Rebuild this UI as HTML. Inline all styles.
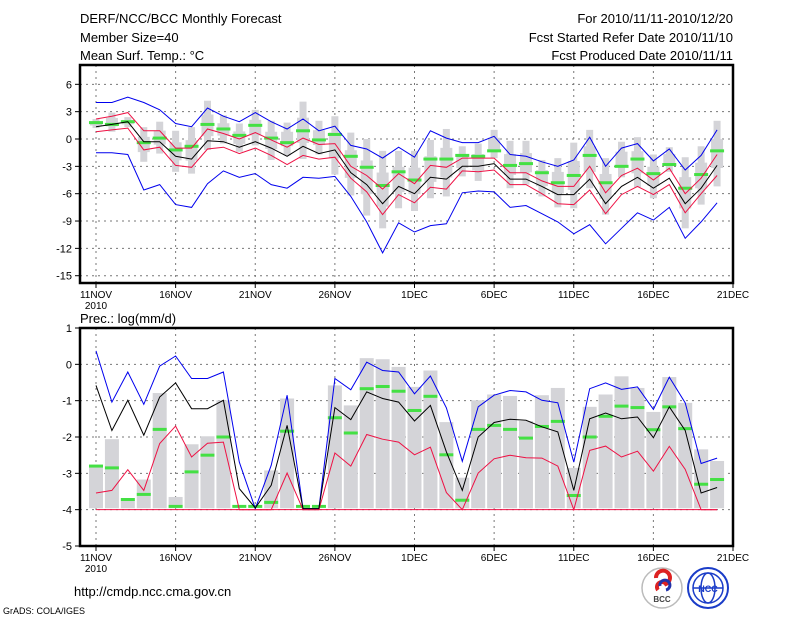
<!DOCTYPE html>
<html><head><meta charset="utf-8">
<style>
html,body{margin:0;padding:0;background:#fff;}
svg{display:block;font-family:"Liberation Sans",sans-serif;}
</style></head>
<body>
<svg id="chart" width="800" height="618" viewBox="0 0 800 618" xmlns="http://www.w3.org/2000/svg">
<g font-size="13" fill="#000">
<text x="80" y="23">DERF/NCC/BCC Monthly Forecast</text>
<text x="80" y="42">Member Size=40</text>
<text x="80" y="60">Mean Surf. Temp.: °C</text>
<text x="733" y="23" text-anchor="end">For 2010/11/11-2010/12/20</text>
<text x="733" y="42" text-anchor="end">Fcst Started Refer Date 2010/11/10</text>
<text x="733" y="60" text-anchor="end">Fcst Produced Date 2010/11/11</text>
<text x="80" y="323">Prec.: log(mm/d)</text>
<text x="74" y="596" font-size="13">http://cmdp.ncc.cma.gov.cn</text>
<text x="3" y="614" font-size="9">GrADS: COLA/IGES</text>
</g>
<g id="top"></g>
<g id="bot"></g>
<g>
<circle cx="662" cy="588" r="20" fill="#fff" stroke="#bbb" stroke-width="1.5"/>
<path d="M656 578 a7 7 0 1 1 10 6 a5 5 0 1 0 -8 6" fill="none" stroke="#d22" stroke-width="4"/>
<path d="M660 586 a5 5 0 1 1 6 4" fill="none" stroke="#23a" stroke-width="3"/>
<text x="662" y="602" font-size="8" text-anchor="middle" font-weight="bold" fill="#444">BCC</text>
</g>
<g>
<circle cx="708" cy="588" r="20" fill="#fff" stroke="#1a3cc8" stroke-width="2"/>
<ellipse cx="708" cy="588" rx="15" ry="15" fill="none" stroke="#1a3cc8" stroke-width="1.5"/>
<ellipse cx="708" cy="588" rx="7" ry="15" fill="none" stroke="#1a3cc8" stroke-width="1.5"/>
<line x1="693" y1="588" x2="723" y2="588" stroke="#1a3cc8" stroke-width="1.5"/>
<text x="708" y="592" font-size="9" text-anchor="middle" font-weight="bold" fill="#1a3cc8">NCC</text>
</g>
</svg>
<script>
// ---- Temperature panel data (°C), days 11NOV..20DEC ----
const dayLabels = ["11NOV","16NOV","21NOV","26NOV","1DEC","6DEC","11DEC","16DEC","21DEC"];
const tTicks = [6,3,0,-3,-6,-9,-12,-15];
const tBlueHi = [4.0,4.0,4.6,4.0,3.2,1.7,1.35,3.4,2.5,1.9,2.9,1.9,1.1,2.2,0.9,1.4,-0.7,-1.1,-2.1,-0.9,-2.0,0.9,0.1,-0.4,-0.4,0.3,-1.7,-1.9,-2.5,-3.0,-2.3,0.2,-3.0,-1.0,-0.5,-2.4,-1.1,-3.4,-1.8,1.0];
const tBlueLo = [-1.5,-1.5,-1.7,-5.6,-5.0,-7.2,-7.5,-4.9,-3.5,-4.2,-3.8,-5.0,-5.4,-4.2,-4.3,-4.1,-6.3,-9.1,-12.5,-9.2,-10.2,-9.5,-9.3,-5.9,-5.7,-5.8,-7.5,-7.3,-8.2,-9.1,-10.4,-9.4,-11.5,-9.8,-8.1,-8.9,-7.5,-10.9,-9.1,-7.0];
const tMean = [1.35,1.6,1.9,-0.3,-0.3,-1.9,-2.2,-0.2,-0.3,-0.9,-0.3,-1.0,-1.9,-0.8,-1.6,-1.2,-3.7,-5.0,-7.1,-5.2,-6.0,-4.2,-4.4,-3.0,-3.0,-2.7,-4.4,-4.4,-5.2,-6.1,-6.1,-4.4,-7.1,-5.2,-4.2,-5.4,-4.3,-7.1,-5.4,-2.9];
const tRedHi = [2.2,2.5,2.9,0.9,0.9,-1.0,-1.0,1.1,0.6,0.0,0.7,-0.1,-0.9,0.1,-0.6,-0.5,-3.0,-4.0,-5.5,-3.8,-4.9,-2.9,-3.1,-2.1,-2.1,-2.1,-3.7,-3.7,-4.6,-5.2,-5.2,-3.0,-5.9,-4.0,-3.2,-4.5,-3.2,-6.0,-4.3,-1.7];
const tRedLo = [0.8,1.0,1.2,-1.2,-0.9,-2.9,-3.1,-1.1,-0.9,-1.6,-1.0,-1.8,-2.8,-1.8,-2.2,-2.0,-4.3,-5.8,-8.3,-6.1,-7.0,-5.3,-5.5,-3.5,-3.6,-3.4,-5.0,-5.0,-6.0,-7.1,-7.2,-5.6,-8.2,-6.1,-5.2,-6.1,-5.0,-8.1,-6.0,-4.0];
const tObs = [1.8,1.6,1.9,-0.4,0.1,-1.2,-0.8,1.6,1.1,0.4,1.5,0.1,-0.4,0.9,-0.1,0.5,-1.9,-3.1,-5.1,-3.6,-4.5,-2.2,-2.2,-1.8,-1.9,-1.3,-2.9,-2.7,-3.7,-4.8,-4.0,-1.8,-4.8,-3.0,-2.2,-3.8,-2.8,-5.4,-3.9,-1.3];
const tBarHi = [2.2,2.9,2.4,1.3,1.9,0.9,1.3,4.2,2.6,1.7,3.2,2.0,1.8,4.1,2.0,2.5,0.7,0.0,-1.3,-1.3,-1.3,-0.1,1.1,-0.8,-0.5,1.0,-0.2,-0.2,-2.3,-2.1,-0.4,1.0,-2.1,-0.3,0.2,-1.7,-0.9,-2.0,-0.8,2.0];
const tBarLo = [1.2,0.8,1.3,-2.5,-1.6,-3.6,-3.8,-1.2,-0.5,-1.4,-0.7,-2.3,-1.8,-2.2,-1.7,-3.9,-6.2,-8.4,-9.8,-7.6,-7.9,-6.5,-6.3,-4.1,-4.6,-2.1,-5.4,-5.0,-6.3,-7.5,-7.6,-5.4,-8.3,-4.2,-5.3,-6.5,-3.6,-9.8,-7.2,-5.2];

// ---- Precipitation panel data (log mm/d) ----
const pTicks = [1,0,-1,-2,-3,-4,-5];
const pBlue = [0.37,-1.04,-0.21,-1.1,-0.05,0.23,-0.39,-0.39,-0.21,-2.69,-3.97,-2.78,-0.85,-3.97,-3.97,-0.39,-0.7,0.06,-0.17,-0.21,-0.81,-0.32,-1.2,-2.67,-1.17,-0.85,-0.72,-0.76,-0.99,-1.06,-2.69,-0.67,-0.51,-0.69,-0.62,-1.24,-0.35,-1.06,-2.73,-2.58];
const pMean = [-0.58,-1.82,-0.99,-1.95,-0.9,-0.51,-1.22,-1.22,-0.99,-3.42,-3.95,-3.33,-1.68,-3.97,-3.97,-1.19,-1.52,-0.76,-0.94,-1.04,-1.56,-1.13,-2.41,-3.47,-2.0,-1.6,-1.51,-1.54,-1.72,-1.86,-3.47,-1.5,-1.34,-1.5,-1.45,-2.02,-1.17,-1.82,-3.54,-3.39];
const pRed = [-3.54,-3.47,-2.9,-3.47,-2.18,-1.7,-2.55,-2.17,-2.14,-4,-4,-4,-2.99,-4,-4,-2.44,-2.8,-1.93,-2.06,-2.14,-2.49,-2.28,-3.53,-4,-2.99,-2.6,-2.5,-2.57,-2.58,-2.8,-4,-2.37,-2.25,-2.55,-2.39,-2.94,-2.26,-2.89,-4,-4];
const pObs = [-2.8,-2.85,-3.72,-3.58,-1.79,-3.91,-2.96,-2.5,-2.0,-3.91,-3.91,-3.8,-1.84,-3.91,-3.91,-1.47,-1.89,-0.67,-0.61,-0.74,-1.27,-0.88,-2.49,-3.74,-1.79,-1.68,-1.79,-2.03,-1.71,-1.57,-3.61,-2.0,-1.43,-1.15,-1.19,-1.8,-1.17,-1.77,-3.3,-3.17];
const pBarTop = [-2.83,-2.06,-3.74,-3.17,-0.79,-3.65,-2.2,-1.98,-0.99,-3.95,-3.95,-2.92,-0.94,-3.95,-3.95,-0.58,-1.13,0.17,0.14,-0.07,-0.62,-0.17,-1.59,-3.12,-0.99,-0.83,-0.87,-1.56,-0.85,-0.65,-2.85,-1.17,-0.83,-0.33,-0.65,-1.31,-0.35,-1.06,-2.34,-2.66];

const NS = "http://www.w3.org/2000/svg";
const X0 = 80, X1 = 733;
function xDay(i){ return 96 + i * (X1 - 96) / 40; }
function mk(parent, tag, attrs){ const e = document.createElementNS(NS, tag); for (const k in attrs) e.setAttribute(k, attrs[k]); parent.appendChild(e); return e; }

function panel(g, top, bottom, vmax, vmin, ticks, prefix){
  const y = v => top + (vmax - v) * (bottom - top) / (vmax - vmin);
  for (const t of ticks){
    if (t === vmax || t === vmin) continue;
    const l = mk(g, "line", {x1:X0, x2:X1, y1:y(t), y2:y(t), stroke:"#777", "stroke-width":1, "stroke-dasharray":"2,4"});
    
    
  }
  for (let k = 0; k < dayLabels.length - 1; k++){
    const xx = xDay(k*5);
    const l = mk(g, "line", {x1:xx, x2:xx, y1:top, y2:bottom, stroke:"#777", "stroke-width":1, "stroke-dasharray":"2,4"});
    
    
  }
  return y;
}
function axes(g, top, bottom, ticks, y, prefix){
  const f = mk(g, "rect", {x:X0, y:top, width:X1-X0, height:bottom-top, fill:"none", stroke:"#000", "stroke-width":2.5});
  
  
  for (const t of ticks){
    const tk = mk(g, "line", {x1:X0-5, x2:X0, y1:y(t), y2:y(t), stroke:"#000", "stroke-width":1});
    
    
    const tx = mk(g, "text", {x:X0-8, y:y(t)+4, "text-anchor":"end", "font-size":11});
    tx.textContent = t;
    
    
  }
  dayLabels.forEach((lab, k) => {
    const xx = k === dayLabels.length-1 ? X1 : xDay(k*5);
    const tk = mk(g, "line", {x1:xx, x2:xx, y1:bottom, y2:bottom+5, stroke:"#000", "stroke-width":1});
    
    
    const tx = mk(g, "text", {x:xx, y:bottom+15, "text-anchor":"middle", "font-size":10});
    tx.textContent = lab;
    
    
  });
  const yr = mk(g, "text", {x:96, y:bottom+26, "text-anchor":"middle", "font-size":10});
  yr.textContent = "2010";
  
  
}
function line(g, arr, y, color, name, w){
  const pts = arr.map((v,i) => xDay(i).toFixed(1) + "," + y(v).toFixed(1)).join(" ");
  const p = mk(g, "polyline", {points:pts, fill:"none", stroke:color, "stroke-width":w||1});
  
  
}
function obs(g, arr, y, name){
  arr.forEach((v,i) => {
    const r = mk(g, "rect", {x:xDay(i)-7, y:y(v)-1.5, width:14, height:3, fill:"#44e044"});
    
    
  });
}

// Top panel
const gt = document.getElementById("top");
const yT = panel(gt, 65, 283, 8.12, -15.8, tTicks, "temp");
tBarHi.forEach((hi,i) => {
  const lo = tBarLo[i], c = (hi+lo)/2, h = (hi-lo)*0.22;
  const r = mk(gt, "rect", {x:xDay(i)-3.5, y:yT(hi), width:7, height:yT(lo)-yT(hi), fill:"#d4d4d8"});
  
  
  const b = mk(gt, "rect", {x:xDay(i)-6, y:yT(c+h), width:12, height:yT(c-h)-yT(c+h), fill:"#d4d4d8"});
  
  
});
obs(gt, tObs, yT, 'temp-observed-mark');
line(gt, tBlueHi, yT, "#0000ee", 'temp-upper-bound-line');
line(gt, tBlueLo, yT, "#0000ee", 'temp-lower-bound-line');
line(gt, tRedHi, yT, "#ee1144", 'temp-upper-spread-line');
line(gt, tRedLo, yT, "#ee1144", 'temp-lower-spread-line');
line(gt, tMean, yT, "#000", 'temp-ensemble-mean-line');
axes(gt, 65, 283, tTicks, yT, "temp");

// Bottom panel
const gb = document.getElementById("bot");
const yP = panel(gb, 328, 546, 1, -5, pTicks, "prec");
pBarTop.forEach((v,i) => {
  if (v <= -3.95) return;
  const r = mk(gb, "rect", {x:xDay(i)-7, y:yP(v), width:14, height:yP(-3.96)-yP(v), fill:"#d4d4d8"});
  
  
});
const base = mk(gb, "line", {x1:xDay(0), x2:xDay(39), y1:yP(-4), y2:yP(-4), stroke:"#ee1144", "stroke-width":1});


obs(gb, pObs, yP, 'prec-observed-mark');
line(gb, pBlue, yP, "#0000ee", 'prec-upper-bound-line');
line(gb, pRed, yP, "#ee1144", 'prec-lower-spread-line');
line(gb, pMean, yP, "#000", 'prec-ensemble-mean-line');
axes(gb, 328, 546, pTicks, yP, "prec");
</script>
</body></html>
